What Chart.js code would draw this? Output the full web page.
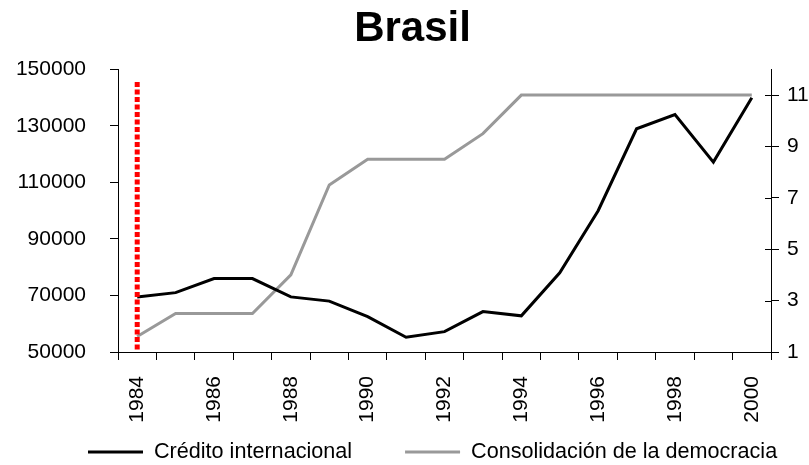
<!DOCTYPE html>
<html>
<head>
<meta charset="utf-8">
<script src="https://cdn.jsdelivr.net/npm/chart.js@4.4.1/dist/chart.umd.min.js"></script>
<style>
  html, body { margin: 0; padding: 0; background: #fff; }
  #wrap { width: 809px; height: 465px; }
</style>
</head>
<body>
<div id="wrap"><canvas id="chart" width="809" height="465"></canvas></div>
<script>
const years = ['1984', '1985', '1986', '1987', '1988', '1989', '1990', '1991', '1992',
  '1993', '1994', '1995', '1996', '1997', '1998', '1999', '2000'];
const credito = [69500, 71000, 76000, 76000, 69500, 68000, 62500, 55200, 57200,
  64300, 62800, 78000, 100000, 129000, 134000, 117200, 140000];
const democracia = [1.6, 2.5, 2.5, 2.5, 4, 7.5, 8.5, 8.5, 8.5,
  9.5, 11, 11, 11, 11, 11, 11, 11];
const leftTicks = [50000, 70000, 90000, 110000, 130000, 150000];
const rightTicks = [1, 3, 5, 7, 9, 11];
const markerYear = '1984';
const markerTop = 145500;

const FONT = 'Liberation Sans, Arial, sans-serif';

// red dotted marker line + hand made legend under the axis
const extras = {
  id: 'extras',
  afterDatasetsDraw(chart) {
    const ctx = chart.ctx;
    const x = chart.scales.x.getPixelForValue(years.indexOf(markerYear));
    const y = chart.scales.y;
    ctx.save();
    ctx.strokeStyle = '#ff0000';
    ctx.lineWidth = 5;
    ctx.setLineDash([5, 2.5]);
    ctx.beginPath();
    ctx.moveTo(x, y.getPixelForValue(markerTop));
    ctx.lineTo(x, y.getPixelForValue(y.min));
    ctx.stroke();
    ctx.restore();

    // right axis ticks cross the axis line
    const r = chart.scales.y1;
    ctx.save();
    ctx.strokeStyle = '#000';
    ctx.lineWidth = 1;
    r.ticks.forEach(t => {
      const py = Math.round(r.getPixelForValue(t.value)) + 0.5;
      ctx.beginPath();
      ctx.moveTo(r.left - 6, py);
      ctx.lineTo(r.left, py);
      ctx.stroke();
    });
    ctx.restore();
  },
  afterDraw(chart) {
    const ctx = chart.ctx;
    ctx.save();
    ctx.font = '21.6px ' + FONT;
    ctx.textBaseline = 'middle';
    ctx.fillStyle = '#000';
    let x = 88;
    const y = 452;
    chart.data.datasets.forEach(ds => {
      ctx.strokeStyle = ds.borderColor;
      ctx.lineWidth = 3;
      ctx.beginPath();
      ctx.moveTo(x, y);
      ctx.lineTo(x + 55, y);
      ctx.stroke();
      ctx.fillText(ds.label, x + 66, y);
      x += 66 + ctx.measureText(ds.label).width + 53;
    });
    ctx.restore();
  }
};

const chart = new Chart(document.getElementById('chart'), {
  type: 'line',
  data: {
    labels: years,
    datasets: [{
      label: 'Crédito internacional',
      data: credito,
      borderColor: '#000000',
      backgroundColor: '#000000',
      borderWidth: 3,
      pointRadius: 0,
      tension: 0,
      yAxisID: 'y'
    }, {
      label: 'Consolidación de la democracia',
      data: democracia,
      borderColor: '#999999',
      backgroundColor: '#999999',
      borderWidth: 3,
      pointRadius: 0,
      tension: 0,
      yAxisID: 'y1'
    }]
  },
  options: {
    responsive: false,
    animation: false,
    layout: { padding: { left: 16, right: 0, top: 0, bottom: 35 } },
    plugins: {
      legend: { display: false },
      tooltip: { enabled: false },
      title: {
        display: true,
        text: 'Brasil',
        color: '#000',
        font: { family: FONT, size: 42, weight: 'bold' },
        padding: { top: 4, bottom: 15 }
      }
    },
    scales: {
      x: {
        offset: true,
        grid: { offset: true, drawOnChartArea: false, drawTicks: true, tickLength: 8, color: '#000' },
        border: { display: true, color: '#000', width: 1 },
        ticks: {
          autoSkip: false,
          minRotation: 90,
          maxRotation: 90,
          padding: 16,
          color: '#000',
          font: { family: FONT, size: 21 },
          callback: (v, i) => (i % 2 === 0 ? years[i] : '')
        },
        afterFit: s => { s.height = 78; }
      },
      y: {
        position: 'left',
        min: leftTicks[0],
        max: leftTicks[leftTicks.length - 1],
        afterBuildTicks: s => { s.ticks = leftTicks.map(v => ({ value: v })); },
        grid: { drawOnChartArea: false, drawTicks: true, tickLength: 8, color: '#000' },
        border: { display: true, color: '#000', width: 1 },
        ticks: {
          padding: 24,
          color: '#000',
          font: { family: FONT, size: 21 },
          callback: v => String(v)
        },
        afterFit: s => { s.width = 102; }
      },
      y1: {
        position: 'right',
        min: 1,
        max: 12,
        afterBuildTicks: s => { s.ticks = rightTicks.map(v => ({ value: v })); },
        grid: { drawOnChartArea: false, drawTicks: true, tickLength: 8, color: '#000' },
        border: { display: true, color: '#000', width: 1 },
        ticks: {
          padding: 8,
          color: '#000',
          font: { family: FONT, size: 21 },
          callback: v => String(v)
        },
        afterFit: s => { s.width = 38; }
      }
    }
  },
  plugins: [extras]
});
</script>
</body>
</html>
